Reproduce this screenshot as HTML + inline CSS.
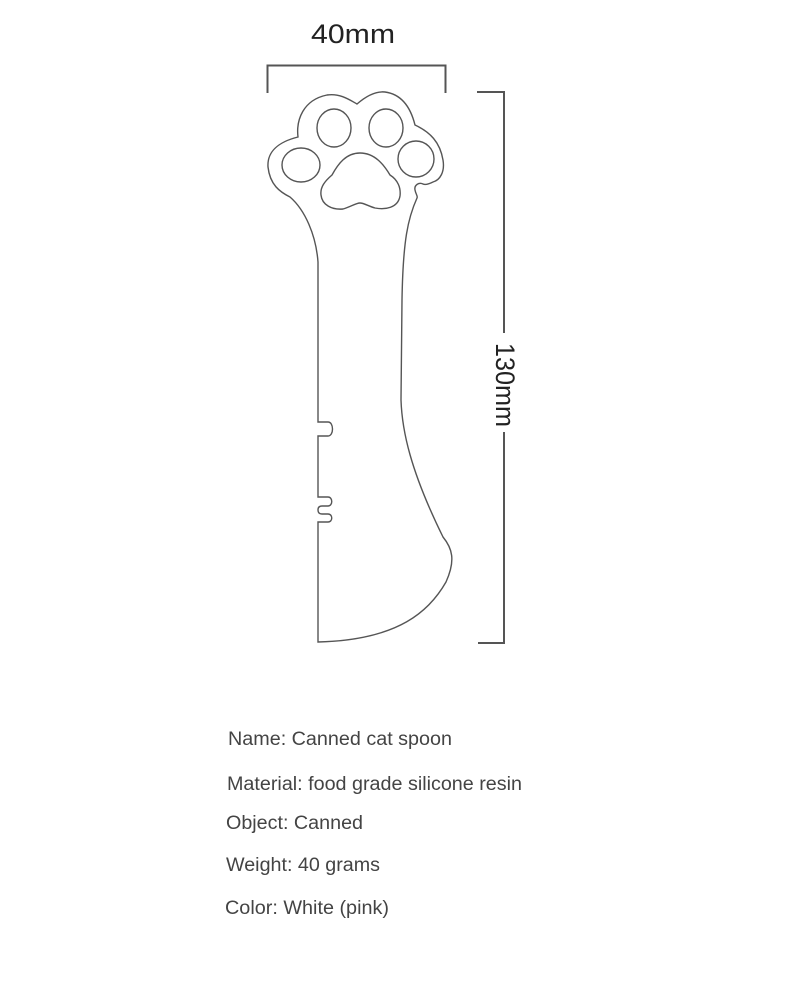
<!DOCTYPE html>
<html><head><meta charset="utf-8"><style>
html,body{margin:0;padding:0;background:#fff;}
svg{display:block;}
</style></head><body>
<svg width="800" height="1000" viewBox="0 0 800 1000" xmlns="http://www.w3.org/2000/svg">
<rect width="800" height="1000" fill="#fff"/>
<path d="M267.5 93 V65.5 H445.5 V93" fill="none" stroke="#555" stroke-width="2"/>
<path d="M477 92 H504 V333 M504 432 V643 H478" fill="none" stroke="#555" stroke-width="2"/>
<text x="311" y="43" font-family="Liberation Sans, sans-serif" font-size="27" fill="#222" textLength="84" lengthAdjust="spacingAndGlyphs">40mm</text>
<text transform="translate(496,343) rotate(90)" x="0" y="0" font-family="Liberation Sans, sans-serif" font-size="27" fill="#222" textLength="84" lengthAdjust="spacingAndGlyphs">130mm</text>
<path d="M298 137 C296 120 303 100 327 95 C340 93 350 100 357 104 C365 97 375 91 385 92 C400 94 410 105 415 125 C430 132 440 142 443 160 C445 172 440 180 433 182 C429 184 425 185 423 184 C419 182 414 185 415 190 C416 195 418 196 417 198 C408 218 403 240 402 300 L401 400 C402 430 410 470 443 537 C452 548 456 560 446 582 C430 610 400 640 318 642 L318 522 H328 C333 522 333 514 328 514 H322 Q318 514 318 510 Q318 506 322 506 H328 C333 506 333 497 328 497 H318 L318 436 H328 C334 436 334 422 328 422 H318 L318 262 C316 235 305 210 290 197 C280 192 270 185 268 167 C267 152 278 142 298 137 Z" fill="none" stroke="#555" stroke-width="1.4"/>
<ellipse cx="334" cy="128" rx="17" ry="19" fill="none" stroke="#555" stroke-width="1.4"/>
<ellipse cx="386" cy="128" rx="17" ry="19" fill="none" stroke="#555" stroke-width="1.4"/>
<ellipse cx="301" cy="165" rx="19" ry="17" fill="none" stroke="#555" stroke-width="1.4"/>
<ellipse cx="416" cy="159" rx="18" ry="18" fill="none" stroke="#555" stroke-width="1.4"/>
<path d="M360 153 C375 153 384 165 390 175 C398 180 401 188 400 196 C398 208 385 210 375 208 C368 206 364 203 360 203 C356 203 350 207 343 209 C332 210 322 205 321 195 C320 187 325 181 332 175 C338 164 346 153 360 153 Z" fill="none" stroke="#555" stroke-width="1.4"/>
<g font-family="Liberation Sans, sans-serif" font-size="19" fill="#444" lengthAdjust="spacingAndGlyphs">
<text x="228" y="745" textLength="224" lengthAdjust="spacingAndGlyphs">Name: Canned cat spoon</text>
<text x="227" y="790" textLength="295" lengthAdjust="spacingAndGlyphs">Material: food grade silicone resin</text>
<text x="226" y="829" textLength="137" lengthAdjust="spacingAndGlyphs">Object: Canned</text>
<text x="226" y="871" textLength="154" lengthAdjust="spacingAndGlyphs">Weight: 40 grams</text>
<text x="225" y="914" textLength="164" lengthAdjust="spacingAndGlyphs">Color: White (pink)</text>
</g>
</svg>
</body></html>
